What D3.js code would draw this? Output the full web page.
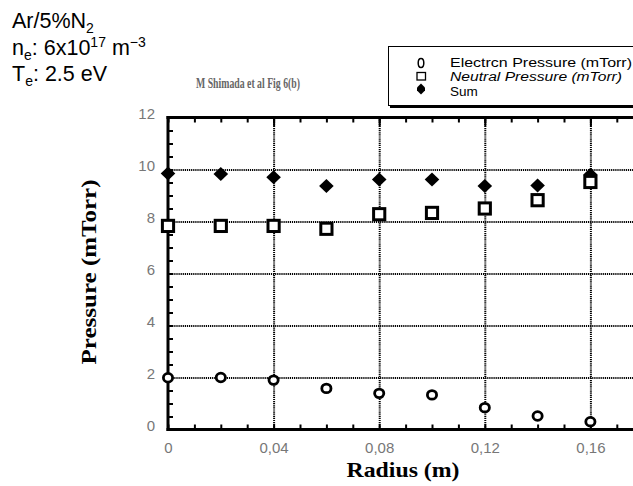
<!DOCTYPE html>
<html><head><meta charset="utf-8">
<script src="https://cdn.jsdelivr.net/npm/d3@7"></script>
<style>
html,body{margin:0;padding:0;background:#fff;}
svg{display:block;}
</style></head>
<body>
<svg id="c" width="633" height="486"></svg>
<script>
const radius = [0, 0.02, 0.04, 0.06, 0.08, 0.10, 0.12, 0.14, 0.16];
const electron = [1.99, 2.0, 1.9, 1.58, 1.39, 1.33, 0.84, 0.52, 0.30];
const neutral = [7.83, 7.83, 7.83, 7.72, 8.28, 8.33, 8.50, 8.82, 9.52];
const sum = [9.85, 9.83, 9.70, 9.37, 9.62, 9.62, 9.37, 9.38, 9.80];
const xMajor = [0, 0.04, 0.08, 0.12, 0.16];
const xMajorLabels = ["0", "0,04", "0,08", "0,12", "0,16"];
const xGrid = [0.04, 0.08, 0.12, 0.16];
const yMajor = [0, 2, 4, 6, 8, 10, 12];
const yGrid = [2, 4, 6, 8, 10];
const legendLabels = ["Electrcn Pressure (mTorr)", "Neutral Pressure (mTorr)", "Sum"];

const svg = d3.select("#c");
const L = 168, T = 117.5, B = 429.5;
const x = d3.scaleLinear().domain([0, 0.18]).range([L, L + 0.18 * 2640]);
const y = d3.scaleLinear().domain([0, 12]).range([B, T]);
const xMinor = d3.range(0, 0.185, 0.01).map(v => +v.toFixed(2));
const yMinor = d3.range(0, 12.01, 0.5);

// grid
const gridStyle = g => g.selectAll("line").attr("stroke", "#000").attr("stroke-width", 2).attr("stroke-dasharray", "1.2,0.9");
svg.append("g").attr("transform", `translate(${L},0)`)
  .call(d3.axisRight(y).tickValues(yGrid).tickSize(640 - L).tickFormat(""))
  .call(g => g.select(".domain").remove()).call(gridStyle);
svg.append("g").attr("transform", `translate(0,${B})`)
  .call(d3.axisTop(x).tickValues(xGrid).tickSize(B - T).tickFormat(""))
  .call(g => g.select(".domain").remove()).call(gridStyle);

// ticks
const tickStyle = g => { g.select(".domain").remove(); g.selectAll("line").attr("stroke", "#000").attr("stroke-width", 2); };
svg.append("g").attr("transform", `translate(0,${B})`)
  .call(d3.axisTop(x).tickValues(xMinor).tickSize(5).tickFormat("")).call(tickStyle);
svg.append("g").attr("transform", `translate(0,${T})`)
  .call(d3.axisBottom(x).tickValues(xMinor).tickSize(5).tickFormat("")).call(tickStyle);
svg.append("g").attr("transform", `translate(0,${T})`)
  .call(d3.axisBottom(x).tickValues(xGrid).tickSize(9).tickFormat("")).call(tickStyle);
svg.append("g").attr("transform", `translate(${L},0)`)
  .call(d3.axisRight(y).tickValues(yMinor).tickSize(5).tickFormat("")).call(tickStyle);

// axis lines
svg.append("line").attr("x1", L).attr("x2", L).attr("y1", T - 1.5).attr("y2", B + 1.5).attr("stroke", "#000").attr("stroke-width", 3);
svg.append("line").attr("x1", L - 1.5).attr("x2", 640).attr("y1", B).attr("y2", B).attr("stroke", "#000").attr("stroke-width", 3);
svg.append("line").attr("x1", L - 1.5).attr("x2", 640).attr("y1", T).attr("y2", T).attr("stroke", "#000").attr("stroke-width", 3);

// tick labels
const lblFont = "'Liberation Sans Narrow','Arial Narrow','Liberation Sans',sans-serif";
svg.append("g").attr("transform", `translate(0,${B})`)
  .call(d3.axisBottom(x).tickValues(xMajor).tickSize(0).tickPadding(10).tickFormat((d, i) => xMajorLabels[i]))
  .call(g => {
    g.select(".domain").remove();
    g.selectAll("text").attr("font-family", lblFont).attr("font-size", 15).attr("fill", "#777").attr("dy", "0.9em");
  });
svg.append("g").attr("transform", `translate(${L},0)`)
  .call(d3.axisLeft(y).tickValues(yMajor).tickSize(0).tickPadding(13).tickFormat(d3.format("d")))
  .call(g => {
    g.select(".domain").remove();
    g.selectAll("text").attr("font-family", lblFont).attr("font-size", 15).attr("fill", "#777").attr("dy", "0.05em");
  });

// axis titles
svg.append("text").attr("x", 403).attr("y", 477).attr("text-anchor", "middle")
  .attr("font-family", "'Liberation Serif','Times New Roman',serif").attr("font-weight", "bold")
  .attr("font-size", 21).attr("textLength", 113).attr("lengthAdjust", "spacingAndGlyphs").text("Radius (m)");
svg.append("text").attr("transform", "translate(96,272) rotate(-90)").attr("text-anchor", "middle")
  .attr("font-family", "'Liberation Serif','Times New Roman',serif").attr("font-weight", "bold")
  .attr("font-size", 22).attr("textLength", 185).attr("lengthAdjust", "spacingAndGlyphs").text("Pressure (mTorr)");

// data marks
const idx = d3.range(radius.length);
svg.append("g").selectAll("path").data(idx).join("path")
  .attr("transform", i => `translate(${x(radius[i])},${y(sum[i])})`)
  .attr("d", "M0,-7L7.3,0L0,7L-7.3,0Z").attr("fill", "#000");
svg.append("g").selectAll("rect").data(idx).join("rect")
  .attr("x", i => x(radius[i]) - 5.6).attr("y", i => y(neutral[i]) - 5.6)
  .attr("width", 11.2).attr("height", 11.2).attr("fill", "#fff").attr("stroke", "#000").attr("stroke-width", 3);
svg.append("g").selectAll("ellipse").data(idx).join("ellipse")
  .attr("cx", i => x(radius[i])).attr("cy", i => y(electron[i]))
  .attr("rx", 4.6).attr("ry", 4.3).attr("fill", "#fff").attr("stroke", "#000").attr("stroke-width", 2.8);

// top-left annotation
const ann = svg.append("g").attr("font-family", "'Liberation Sans',Arial,sans-serif").attr("font-size", 21.5).attr("fill", "#000");
const t1 = ann.append("text").attr("x", 12).attr("y", 28);
t1.append("tspan").text("Ar/5%N");
t1.append("tspan").attr("font-size", 14).attr("dy", 5).text("2");
const t2 = ann.append("text").attr("x", 12).attr("y", 54.5);
t2.append("tspan").text("n");
t2.append("tspan").attr("font-size", 14).attr("dy", 5).text("e");
t2.append("tspan").attr("dy", -5).text(": 6x10");
t2.append("tspan").attr("font-size", 14).attr("dy", -8).text("17");
t2.append("tspan").attr("dy", 8).text(" m");
t2.append("tspan").attr("font-size", 14).attr("dy", -8).text("\u22123");
const t3 = ann.append("text").attr("x", 12).attr("y", 81);
t3.append("tspan").text("T");
t3.append("tspan").attr("font-size", 14).attr("dy", 5).text("e");
t3.append("tspan").attr("dy", -5).text(": 2.5 eV");

svg.append("text").attr("x", 196).attr("y", 88).attr("font-family", "'Liberation Serif','Times New Roman',serif")
  .attr("font-size", 14).attr("font-weight", "bold").attr("fill", "#666").attr("textLength", 104).attr("lengthAdjust", "spacingAndGlyphs")
  .text("M Shimada et al Fig 6(b)");

// legend
const lg = svg.append("g");
lg.append("rect").attr("x", 390).attr("y", 104).attr("width", 260).attr("height", 4).attr("fill", "#000");
lg.append("rect").attr("x", 388.5).attr("y", 46.5).attr("width", 260).attr("height", 59).attr("fill", "#fff").attr("stroke", "#000").attr("stroke-width", 1);
lg.append("ellipse").attr("cx", 421).attr("cy", 63).attr("rx", 2.8).attr("ry", 4.5).attr("fill", "none").attr("stroke", "#000").attr("stroke-width", 1.5);
lg.append("rect").attr("x", 417).attr("y", 72.5).attr("width", 8.5).attr("height", 7.5).attr("fill", "none").attr("stroke", "#000").attr("stroke-width", 1.3);
lg.append("path").attr("transform", "translate(421,89)").attr("d", "M0,-5.5L4,-1.5L4,1.5L0,5.5L-4,1.5L-4,-1.5Z").attr("fill", "#000");
const lt = lg.append("g").attr("font-family", "'Liberation Sans',Arial,sans-serif").attr("fill", "#000");
lt.append("text").attr("x", 450).attr("y", 67).attr("font-size", 13.5).attr("textLength", 182).attr("lengthAdjust", "spacingAndGlyphs").text(legendLabels[0]);
lt.append("text").attr("x", 450).attr("y", 81).attr("font-size", 12).attr("font-style", "italic").attr("textLength", 172).attr("lengthAdjust", "spacingAndGlyphs").text(legendLabels[1]);
lt.append("text").attr("x", 450).attr("y", 96).attr("font-size", 13.5).text(legendLabels[2]);
</script>
</body></html>
